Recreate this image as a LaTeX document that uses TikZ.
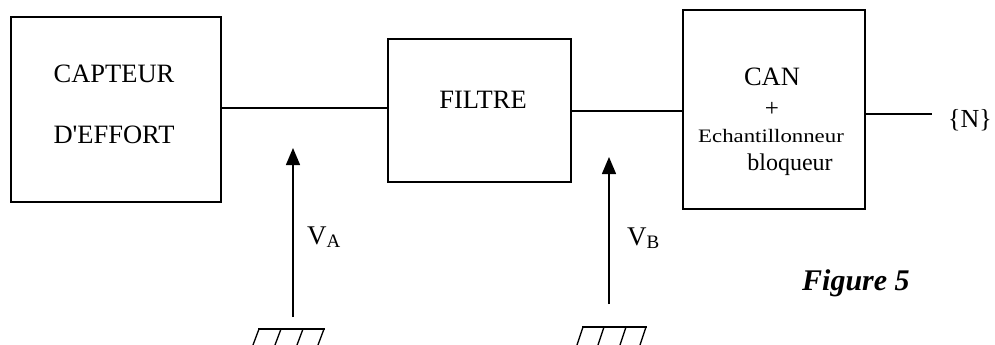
\documentclass[tikz,border=0pt]{standalone}
\usepackage{fontspec}
\setmainfont{Liberation Serif}[Ligatures=TeXOff]
\usetikzlibrary{arrows.meta}
\newcommand{\voltlabel}[1]{V\raisebox{-3pt}{\fontsize{19}{20}\selectfont #1}}
\begin{document}
\begin{tikzpicture}[x=1pt,y=-1pt,
  blockbox/.style={draw,line width=1.3pt,inner sep=0pt},
  wire/.style={line width=1.3pt},
  lbl/.style={inner sep=0pt,anchor=base,font=\fontsize{26.5}{30}\selectfont},
  volt/.style={-{Triangle[length=17pt,width=14pt]},line width=1.4pt},
  gnd/.style={line width=1.3pt}]
\useasboundingbox (0,0) rectangle (995,345);
% blocks
\node[blockbox,minimum width=210pt,minimum height=185pt] (capt) at (116,109.5) {};
\node[blockbox,minimum width=183pt,minimum height=143pt] (filt) at (479.5,110.5) {};
\node[blockbox,minimum width=182pt,minimum height=199pt] (can) at (774,109.5) {};
% texts
\node[lbl] (t1) at (114,82) {CAPTEUR};
\node[lbl] (t2) at (114,143) {D'EFFORT};
\node[lbl] (t3) at (483,108) {FILTRE};
\node[lbl] (t4) at (772,85) {CAN};
\node[lbl,font=\fontsize{25}{28}\selectfont] (t5) at (772,116) {+};
\node[lbl,font=\fontsize{19}{22}\selectfont] (t6) at (771,142) {\scalebox{1.2}[1]{Echantillonneur}};
\node[lbl,font=\fontsize{24}{28}\selectfont] (t7) at (790,170) {bloqueur};
% wires
\draw[wire] (capt.east |- 0,108) -- (filt.west |- 0,108);
\draw[wire] (filt.east |- 0,111) -- (can.west |- 0,111);
\coordinate (outend) at (932,114);
\draw[wire] (can.east |- outend) -- (outend);
\node[lbl,anchor=base west,font=\fontsize{26}{28}\selectfont] (nout) at (948,127) {\{N\}};
% voltage arrows
\coordinate (gA) at (293,317);
\coordinate (tA) at (293,148);
\draw[volt] (gA) -- (tA);
\node[lbl,anchor=base west,font=\fontsize{27}{30}\selectfont] (vA) at (307,244) {\voltlabel{A}};
\coordinate (gB) at (609,304);
\coordinate (tB) at (609,157);
\draw[volt] (gB) -- (tB);
\node[lbl,anchor=base west,font=\fontsize{27}{30}\selectfont] (vB) at (627,245) {\voltlabel{B}};
% grounds
\draw[gnd] (258,329) -- (325,329);
\foreach \x in {259,281,303,324} \draw[gnd] (\x,329) -- (\x-6,345);
\draw[gnd] (582,327) -- (647,327);
\foreach \x in {583,604,626,646} \draw[gnd] (\x,327) -- (\x-6,345);
% caption
\node[lbl,anchor=base west,font=\fontsize{30}{34}\selectfont\bfseries\itshape] (fig) at (802,290) {Figure 5};
\end{tikzpicture}
\end{document}
